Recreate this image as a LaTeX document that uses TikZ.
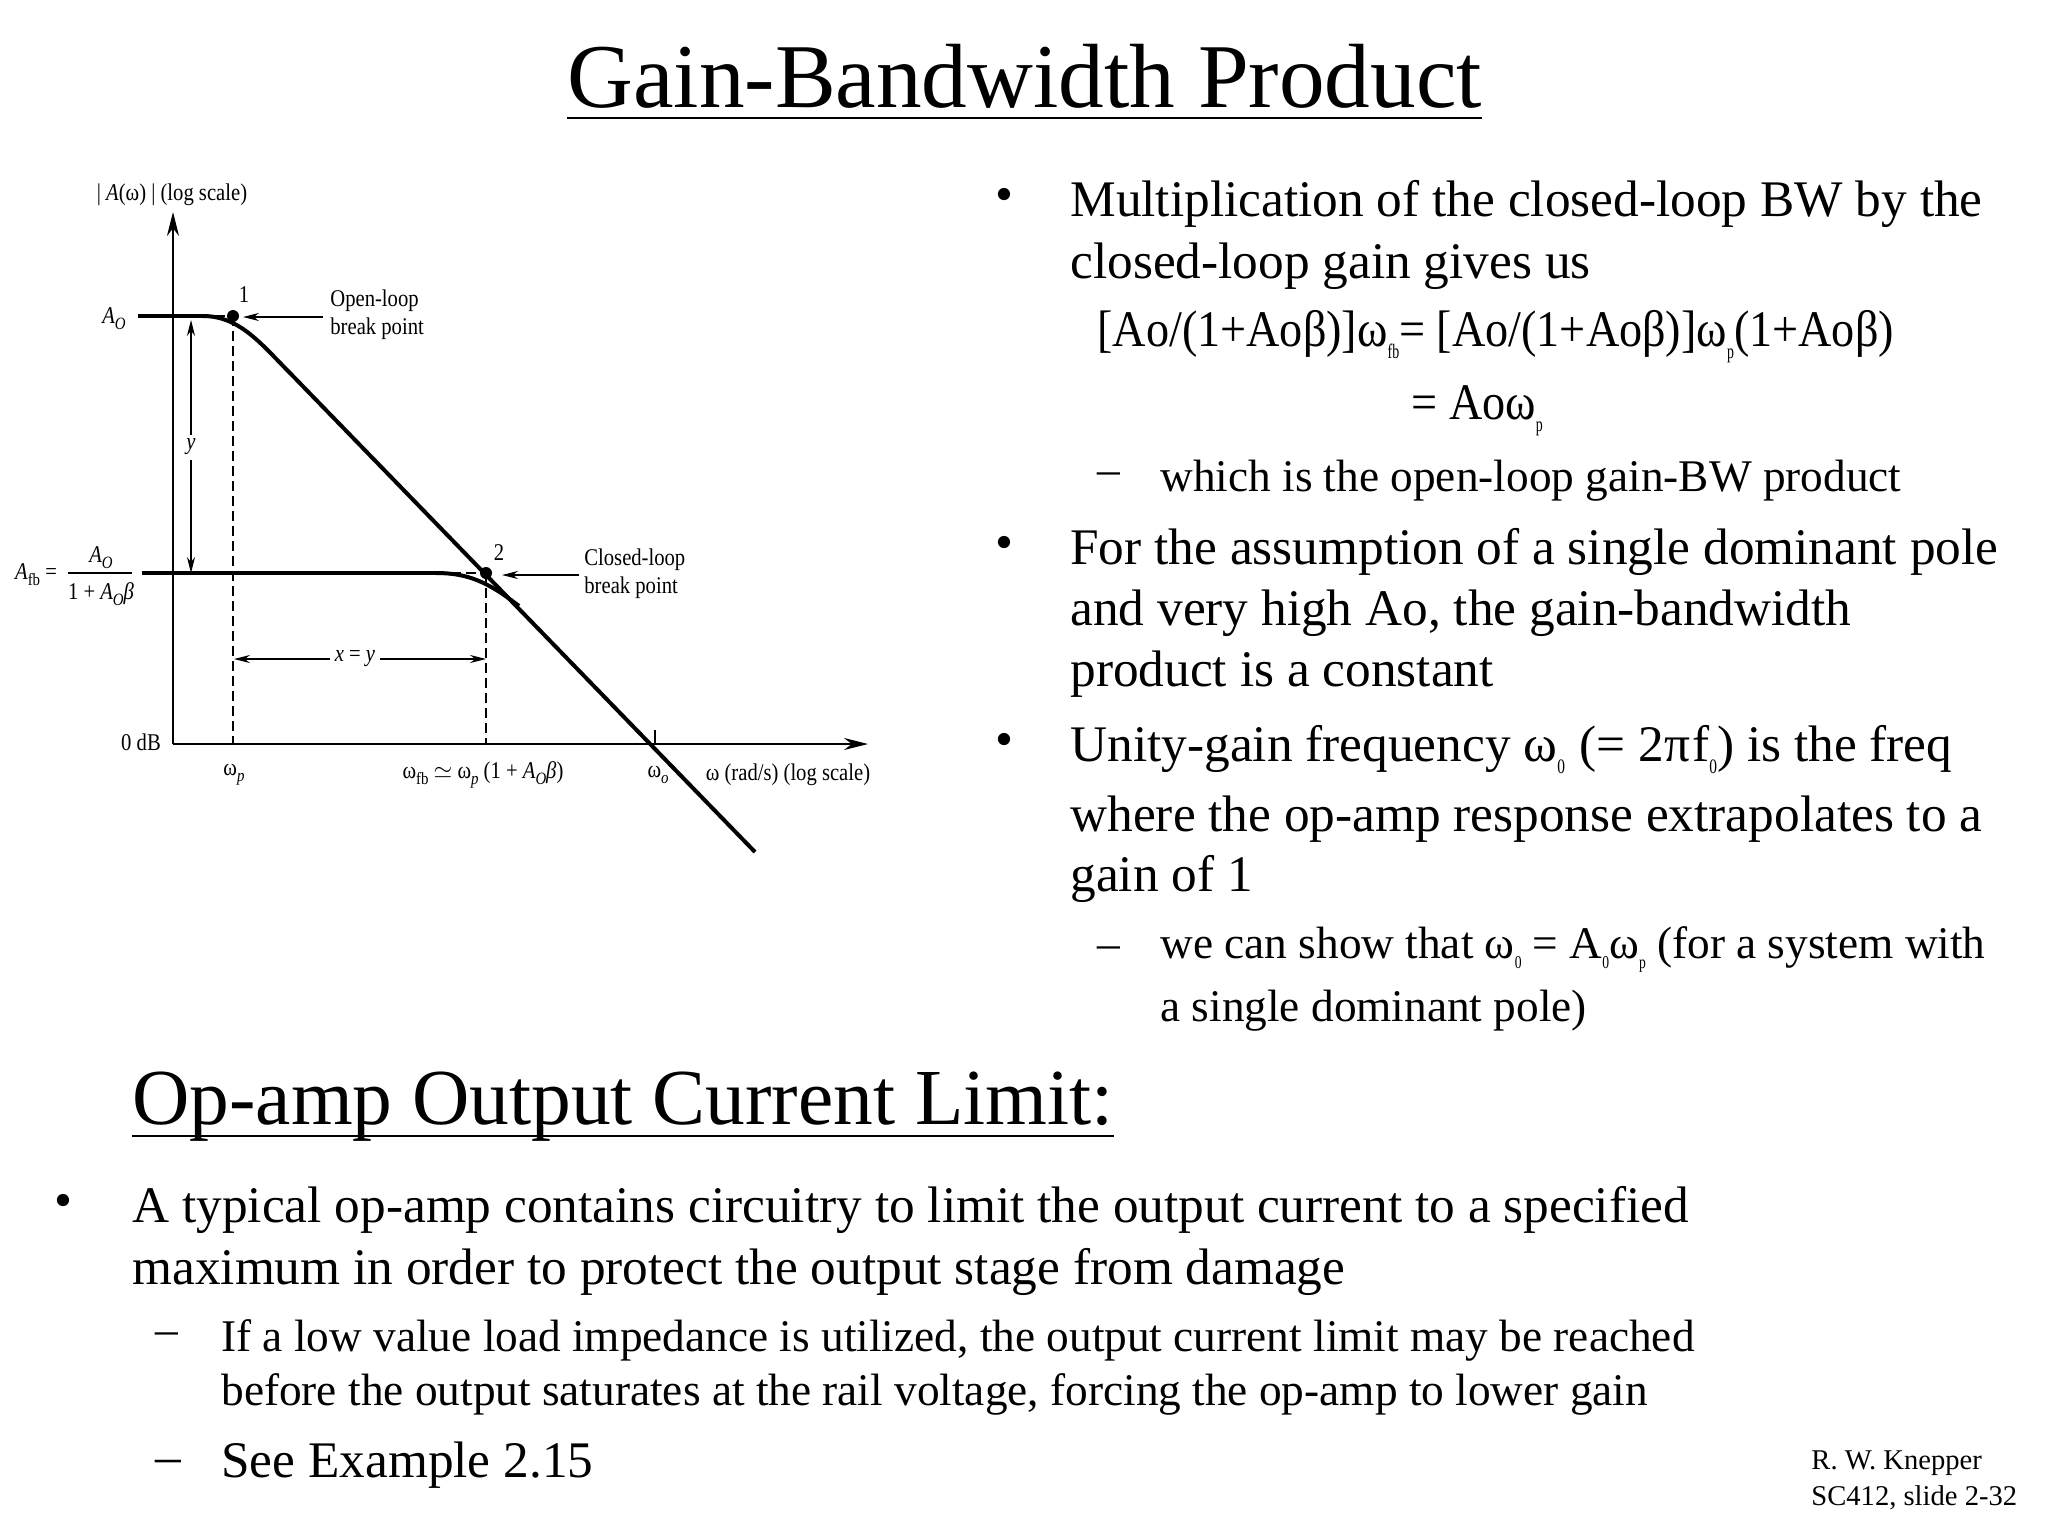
\documentclass[tikz,border=0pt]{standalone}
\usepackage{fontspec}
\setmainfont{Liberation Serif}
\newfontfamily\eqfont[FakeStretch=0.9]{Liberation Serif}
\newfontfamily\graphfont[FakeStretch=0.86]{Liberation Serif}
\newcommand{\lowsub}[1]{\raisebox{-0.24em}{\scalebox{0.3}[0.4]{#1}}}
\newcommand{\graphsub}[1]{\raisebox{-0.25em}{\scalebox{0.72}{#1}}}
\newcommand{\om}{\char"03C9}
\tikzset{
  head/.style={anchor=base west, inner sep=0pt, font=\fontsize{45.6}{45.6}\selectfont},
  headlow/.style={anchor=base west, inner sep=0pt, font=\fontsize{39.7}{39.7}\selectfont},
  body/.style={anchor=base west, inner sep=0pt, font=\fontsize{25.66}{25.66}\selectfont},
  eqbody/.style={anchor=base west, inner sep=0pt, font=\eqfont\fontsize{25.66}{25.66}\selectfont},
  subbody/.style={anchor=base west, inner sep=0pt, font=\fontsize{22.65}{22.65}\selectfont},
  credit/.style={anchor=base west, inner sep=0pt, font=\fontsize{14.3}{14.3}\selectfont},
  graphtext/.style={inner sep=0pt, font=\graphfont\fontsize{12}{14}\selectfont},
  flatcurve/.style={line width=2.4pt},
  thickcurve/.style={line width=2pt},
  thinline/.style={line width=0.6pt},
  guide/.style={line width=0.6pt, dash pattern=on 5pt off 2.5pt},
  tipped/.style={line width=0.6pt, -{Stealth[length=8pt,width=4pt]}},
  axis/.style={line width=1pt, -{Stealth[length=12pt,width=6pt]}},
}
\usetikzlibrary{arrows.meta}
\begin{document}
\begin{tikzpicture}[x=0.5pt,y=-0.5pt]
\useasboundingbox (0,0) rectangle (2048,1536);
% headings
\node[head] (title) at (567,108) {Gain-Bandwidth Product};
\draw[line width=1pt] ([yshift=-5pt]title.base west)--([yshift=-5pt]title.base east);
\node[headlow] (limit) at (132,1124) {Op-amp Output Current Limit:};
\draw[line width=1pt] ([yshift=-6pt]limit.base west)--([yshift=-6pt]limit.base east);
% right column
\node[body] (b1) at (995,211) {•};
\node[body] (mult1) at (1070,216) {Multiplication of the closed-loop BW by the};
\node[body] (mult2) at (1070,278) {closed-loop gain gives us};
\node[eqbody] (eq1) at (1097,346) {[Ao/(1+Aoβ)]\om\lowsub{fb}= [Ao/(1+Aoβ)]\om\lowsub{p}(1+Aoβ)};
\node[eqbody] (eq2) at (1411,419) {= Ao\om\lowsub{p}};
\node[subbody] (d1) at (1097,484) {–};
\node[subbody] (which) at (1160,491) {which is the open-loop gain-BW product};
\node[body] (b2) at (995,559) {•};
\node[body] (assume1) at (1070,564) {For the assumption of a single dominant pole};
\node[body] (assume2) at (1070,625) {and very high Ao, the gain-bandwidth};
\node[body] (assume3) at (1070,686) {product is a constant};
\node[body] (b3) at (995,756) {•};
\node[body] (unity1) at (1070,761) {Unity-gain frequency \om\lowsub{0}\kern1pt{} (= 2π\kern1pt{}f\lowsub{0}) is the freq};
\node[body] (unity2) at (1070,831) {where the op-amp response extrapolates to a};
\node[body] (unity3) at (1070,891) {gain of 1};
\node[subbody] (d2) at (1097,958) {–};
\node[subbody] (show1) at (1160,958) {we can show that \om\lowsub{0} = A\lowsub{0}\om\lowsub{p} (for a system with};
\node[subbody] (show2) at (1160,1021) {a single dominant pole)};
% bottom block
\node[body] (b4) at (54,1217) {•};
\node[body] (typ1) at (132,1222) {A typical op-amp contains circuitry to limit the output current to a specified};
\node[body] (typ2) at (132,1284) {maximum in order to protect the output stage from damage};
\node[subbody] (d3) at (155,1344) {–};
\node[subbody] (low1) at (221,1351) {If a low value load impedance is utilized, the output current limit may be reached};
\node[subbody] (low2) at (221,1405) {before the output saturates at the rail voltage, forcing the op-amp to lower gain};
\node[body] (d4) at (155,1473) {–};
\node[body] (see) at (221,1477) {See Example 2.15};
\node[credit] (name) at (1811,1469) {R. W. Knepper};
\node[credit] (slide) at (1811,1505) {SC412, slide 2-32};
% graph
\coordinate (origin) at (173,744);
\coordinate (ytop) at (173,212);
\coordinate (xend) at (868,744);
\draw[axis] (origin)--(ytop);
\draw[axis] (origin)--(xend);
\coordinate (p1) at (233,316);
\coordinate (p2) at (486,573);
\draw[guide] (p1)--(233,744);
\draw[guide] (p2)--(486,744);
\draw[guide] (200,316)--(p1);
\draw[guide] (436,573)--(p2);
\draw[flatcurve] (138,316)--(203,316);
\draw[thickcurve] (203,316) .. controls (240,316) and (262,345) .. (290,373)--(755,852);
\draw[flatcurve] (142,573)--(436,573);
\draw[thickcurve] (436,573) .. controls (468,573) and (488,582) .. (519,606);
\fill (p1) circle (6);
\fill (p2) circle (6);
\draw[thinline] (655,730)--(655,744);
\node[graphtext] (yaxislabel) at (172,195) {| \textit{A}(\om) | (log scale)};
\node[graphtext] (aopen) at (114,319) {\textit{A\graphsub{O}}};
\node[graphtext] (afb) at (36,575) {\textit{A}\graphsub{fb} =};
\node[graphtext] (afbtop) at (101,558) {\textit{A\graphsub{O}}};
\node[graphtext] (afbbot) at (101,594) {1 + \textit{A\graphsub{O}β}};
\draw[thinline] (68,573)--(132,573);
\node[graphtext] (zerodb) at (141,742) {0 dB};
\node[graphtext] (wp) at (234,775) {\om\graphsub{\textit{p}}};
\node[graphtext] (wfb) at (483,775) {\om\graphsub{fb} $\simeq$ \om\graphsub{\textit{p}} (1 + \textit{A\graphsub{O}β})};
\node[graphtext] (wo) at (658,775) {\om\graphsub{\textit{o}}};
\node[graphtext] (xlabel) at (788,775) {\om{} (rad/s) (log scale)};
\node[graphtext] (one) at (244,295) {1};
\node[graphtext] (two) at (499,553) {2};
\node[graphtext,align=left,anchor=west] (openlabel) at (330,315) {Open-loop\\break point};
\node[graphtext,align=left,anchor=west] (closedlabel) at (584,574) {Closed-loop\\break point};
\coordinate (opentip) at (243,317);
\coordinate (closedtip) at (502,575);
\draw[tipped] (323,317)--(opentip);
\draw[tipped] (579,575)--(closedtip);
\node[graphtext,fill=white,inner sep=2pt] (ylabel) at (191,447) {\textit{y}};
\coordinate (ytip) at (191,320);
\coordinate (ybot) at (191,573);
\draw[tipped] (ylabel)--(ytip);
\draw[tipped] (ylabel)--(ybot);
\node[graphtext,fill=white,inner sep=2pt] (xylabel) at (355,659) {\textit{x} = \textit{y}};
\coordinate (xleft) at (234,659);
\coordinate (xright) at (486,659);
\draw[tipped] (xylabel)--(xleft);
\draw[tipped] (xylabel)--(xright);
\end{tikzpicture}
\end{document}
